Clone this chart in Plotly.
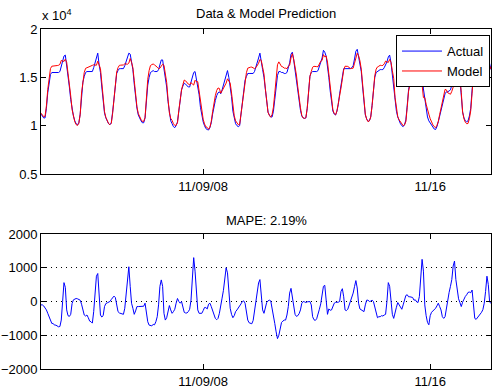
import numpy as np
import pandas as pd
import plotly.graph_objects as go

# ---- data (hourly, actual load in units of 1e4, error = actual - model) ----
start = "2008-11-04 00:00"
actual_d01 = [1.12,1.10,1.08,1.08,1.18,1.34,1.46,1.53,1.55,1.55,1.55,1.55,1.55,1.55,1.56,1.62,1.67,1.72,1.73,1.63,1.50,1.40,1.27,1.16]
actual_d02 = [1.10,1.05,1.02,1.01,1.03,1.12,1.33,1.45,1.51,1.55,1.56,1.56,1.56,1.56,1.56,1.60,1.66,1.70,1.75,1.63,1.55,1.40,1.25,1.13]
actual_d03 = [1.08,1.04,1.02,1.01,1.03,1.14,1.30,1.43,1.54,1.57,1.59,1.59,1.59,1.59,1.62,1.67,1.71,1.75,1.74,1.65,1.58,1.43,1.29,1.18]
actual_d04 = [1.11,1.07,1.05,1.03,1.03,1.08,1.30,1.42,1.50,1.55,1.56,1.57,1.56,1.56,1.56,1.58,1.64,1.68,1.68,1.59,1.50,1.40,1.25,1.12]
actual_d05 = [1.05,1.02,0.99,0.98,1.00,1.04,1.16,1.27,1.37,1.41,1.44,1.43,1.41,1.40,1.40,1.45,1.49,1.55,1.56,1.48,1.43,1.32,1.19,1.10]
actual_d06 = [1.04,1.00,0.97,0.96,0.955,0.98,1.03,1.12,1.21,1.26,1.31,1.34,1.35,1.33,1.37,1.42,1.47,1.54,1.57,1.50,1.42,1.30,1.15,1.06]
actual_d07 = [1.02,1.00,0.99,1.00,1.12,1.24,1.37,1.47,1.51,1.54,1.54,1.54,1.54,1.54,1.56,1.60,1.65,1.70,1.75,1.68,1.58,1.50,1.37,1.25]
actual_d08 = [1.14,1.11,1.09,1.09,1.15,1.27,1.42,1.52,1.56,1.56,1.55,1.55,1.54,1.54,1.55,1.60,1.65,1.74,1.76,1.68,1.58,1.48,1.36,1.24]
actual_d09 = [1.16,1.10,1.08,1.075,1.08,1.18,1.36,1.51,1.55,1.56,1.56,1.56,1.56,1.57,1.61,1.66,1.70,1.78,1.76,1.72,1.62,1.50,1.36,1.22]
actual_d10 = [1.15,1.12,1.11,1.15,1.22,1.33,1.42,1.52,1.59,1.59,1.59,1.59,1.59,1.59,1.60,1.62,1.69,1.77,1.79,1.72,1.65,1.56,1.40,1.21]
actual_d11 = [1.11,1.07,1.045,1.05,1.09,1.21,1.38,1.50,1.55,1.56,1.57,1.58,1.58,1.58,1.60,1.63,1.66,1.71,1.73,1.65,1.53,1.44,1.26,1.15]
actual_d12 = [1.09,1.05,1.02,1.00,0.99,1.01,1.06,1.21,1.37,1.44,1.47,1.48,1.48,1.47,1.47,1.48,1.50,1.57,1.55,1.38,1.28,1.18,1.09,1.05]
actual_d13 = [1.03,1.00,0.98,0.965,0.96,0.99,1.04,1.10,1.16,1.22,1.27,1.33,1.35,1.35,1.36,1.37,1.42,1.50,1.57,1.55,1.52,1.50,1.49,1.33]
actual_d14 = [1.14,1.08,1.05,1.04,1.05,1.10,1.18,1.37,1.50,1.54,1.55,1.55,1.55,1.56,1.57,1.60,1.62,1.67,1.73,1.70,1.62,1.58]

error_d01 = [-100,-100,-130,-180,-250,-350,-450,-600,-650,-650,-700,-700,-720,-750,-740,-550,0,560,420,-250,-420,-440,-380,-60]
error_d02 = [50,80,90,80,60,40,-80,-250,-400,-430,-400,-480,-580,-600,-640,-300,300,750,830,150,-400,-460,-420,-150]
error_d03 = [-60,-40,-20,0,60,130,160,120,-150,-300,-340,-360,-360,-380,-200,300,740,1030,450,-50,-200,-380,-280,-150]
error_d04 = [-150,-150,-150,-140,-140,-50,-300,-600,-700,-720,-720,-680,-690,-600,-450,-100,450,640,450,-350,-550,-480,-250,-120]
error_d05 = [-250,-350,-300,-230,-50,90,0,-50,0,-150,-320,-340,-340,-300,-230,40,600,1300,900,250,-250,-350,-350,-350]
error_d06 = [-270,-180,-180,-220,-80,-50,-150,-250,-380,-500,-540,-500,-350,-60,100,330,650,1000,850,400,-200,-380,-480,-420]
error_d07 = [-300,-250,-200,-150,-70,0,20,-50,-380,-550,-630,-650,-660,-560,-300,0,300,550,650,50,-250,-350,-170,-30]
error_d08 = [20,40,20,-250,-420,-650,-900,-1100,-1000,-800,-620,-580,-550,-550,-400,-150,250,390,150,-80,-380,-440,-420,-360]
error_d09 = [-250,-50,0,-10,-30,-10,0,0,-100,-450,-540,-560,-510,-400,-230,-70,250,450,480,0,-380,-220,-260,-250]
error_d10 = [-140,-50,-25,-25,-20,0,300,380,140,-250,-270,-230,-120,-20,80,250,440,620,400,-50,-220,-250,-280,-300]
error_d11 = [-100,40,40,0,10,40,0,-150,-350,-480,-450,-450,-420,-430,-400,-380,0,560,450,-50,-380,-500,-300,-170]
error_d12 = [-30,-100,-200,-230,-100,20,180,200,140,140,140,120,40,50,-10,-30,150,800,1250,900,-100,-420,-620,-690]
error_d13 = [-420,-320,-280,-250,-200,-130,-50,-150,-250,-450,-500,-450,-200,100,270,450,650,1050,1200,650,280,80,-30,-150]
error_d14 = [-20,80,150,200,270,280,260,340,-200,-500,-530,-480,-450,-400,-320,-240,-50,300,750,500,-20,-50]

x_tick_vals = ["2008-11-09", "2008-11-16"]
x_tick_text = ["11/09/08", "11/16"]
top_y_ticks = [0.5, 1, 1.5, 2]
top_y_text = ["0.5", "1", "1.5", "2"]
bottom_y_ticks = [-2000, -1000, 0, 1000, 2000]
mape_text = "MAPE: 2.19%"

actual = np.concatenate([actual_d01, actual_d02, actual_d03, actual_d04, actual_d05, actual_d06, actual_d07,
                         actual_d08, actual_d09, actual_d10, actual_d11, actual_d12, actual_d13, actual_d14]) * 1e4
error = np.concatenate([error_d01, error_d02, error_d03, error_d04, error_d05, error_d06, error_d07,
                        error_d08, error_d09, error_d10, error_d11, error_d12, error_d13, error_d14]).astype(float)
model = actual - error
t = pd.date_range(start, periods=len(actual), freq="h")

FONT = "Liberation Sans, Arial, Helvetica, sans-serif"

fig = go.Figure()
fig.add_trace(go.Scatter(x=t, y=actual / 1e4, mode="lines", name="Actual",
                         line=dict(color="#0000ff", width=1), xaxis="x", yaxis="y"))
fig.add_trace(go.Scatter(x=t, y=model / 1e4, mode="lines", name="Model",
                         line=dict(color="#ff0000", width=1), xaxis="x", yaxis="y"))
fig.add_trace(go.Scatter(x=t, y=error, mode="lines", name="Error", showlegend=False,
                         line=dict(color="#0000ff", width=1), xaxis="x2", yaxis="y2"))

xr = [t[0], t[-1]]
axis_common = dict(showline=True, linecolor="#000000", linewidth=1, mirror="ticks",
                   ticks="inside", ticklen=5, tickcolor="#000000", tickwidth=1,
                   tickfont=dict(family=FONT, size=13, color="#000000"), zeroline=False)

fig.update_layout(
    width=493, height=392,
    margin=dict(l=38, r=1, t=29, b=23),
    paper_bgcolor="white", plot_bgcolor="white",
    font=dict(family=FONT, size=13, color="#000000"),
    xaxis=dict(domain=[0, 1], anchor="y", type="date", range=xr, tickvals=x_tick_vals,
               ticktext=x_tick_text, showgrid=False, **axis_common),
    yaxis=dict(domain=[0.5735, 1], anchor="x", range=[0.5, 2], tickvals=top_y_ticks,
               ticktext=top_y_text, showgrid=False, **axis_common),
    xaxis2=dict(domain=[0, 1], anchor="y2", type="date", range=xr, tickvals=x_tick_vals,
                ticktext=x_tick_text, showgrid=False, **axis_common),
    yaxis2=dict(domain=[0, 0.397], anchor="x2", range=[-2000, 2000], tickvals=bottom_y_ticks,
                showgrid=True, gridcolor="#000000", gridwidth=1, griddash="1px,4px", **axis_common),
    legend=dict(x=0.9978, xanchor="right", y=0.982, yanchor="top", bgcolor="white",
                bordercolor="#000000", borderwidth=1, font=dict(family=FONT, size=13, color="#000000"),
                itemwidth=40, tracegroupgap=0),
    showlegend=True,
    annotations=[
        dict(text="Data & Model Prediction", xref="paper", yref="paper", x=0.5, y=(369 - 14) / 340,
             xanchor="center", yanchor="middle", showarrow=False, font=dict(size=13)),
        dict(text=mape_text, xref="paper", yref="paper", x=0.5, y=(369 - 220) / 340,
             xanchor="center", yanchor="middle", showarrow=False, font=dict(size=13)),
        dict(text="x 10<sup>4</sup>", xref="paper", yref="paper", x=-0.003, y=(369 - 25) / 340,
             xanchor="left", yanchor="bottom", showarrow=False, font=dict(size=13)),
    ],
)

fig.write_html("out.html")
